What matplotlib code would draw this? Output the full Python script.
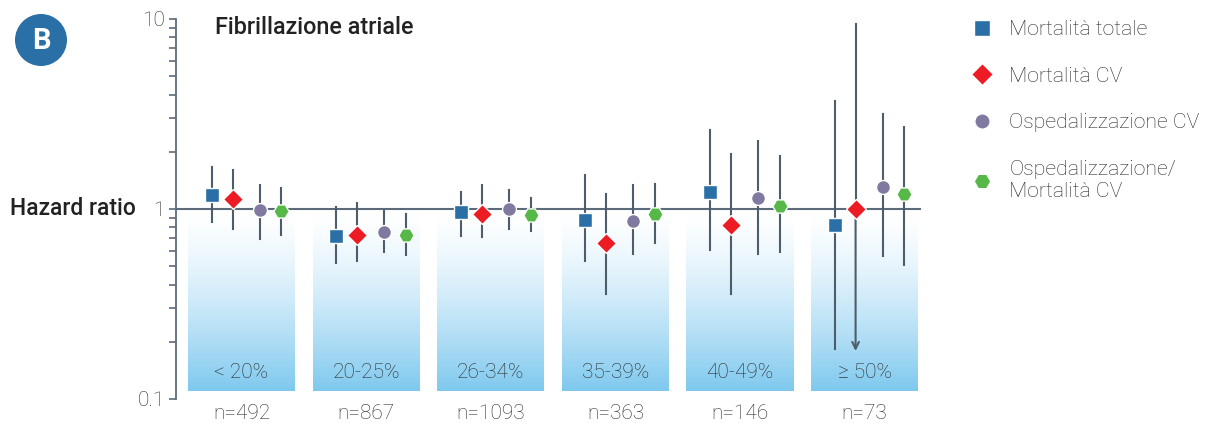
import numpy as np
import matplotlib
matplotlib.use("Agg")
import matplotlib.pyplot as plt
from matplotlib.patches import Circle
from matplotlib.transforms import IdentityTransform, blended_transform_factory
from matplotlib.lines import Line2D
from matplotlib.ticker import FixedLocator, FixedFormatter, NullFormatter

plt.rcParams['font.family'] = ['Roboto', 'DejaVu Sans']

categories = ['< 20%', '20-25%', '26-34%', '35-39%', '40-49%', '≥ 50%']
n_labels = ['n=492', 'n=867', 'n=1093', 'n=363', 'n=146', 'n=73']
series_names = ['Mortalità totale', 'Mortalità CV', 'Ospedalizzazione CV',
                'Ospedalizzazione/\nMortalità CV']

hr_tot = [1.18, 0.72, 0.96, 0.875, 1.23, 0.82]
lo_tot = [0.85, 0.52, 0.72, 0.53, 0.61, 0.183]
hi_tot = [1.66, 1.03, 1.23, 1.51, 2.6, 3.7]

hr_cv = [1.13, 0.73, 0.94, 0.66, 0.82, 1.0]
lo_cv = [0.785, 0.533, 0.715, 0.356, 0.356, 0.179]
hi_cv = [1.60, 1.075, 1.33, 1.2, 1.95, 9.39]

hr_hosp = [0.99, 0.757, 1.0, 0.868, 1.14, 1.30]
lo_hosp = [0.695, 0.596, 0.785, 0.578, 0.578, 0.566]
hi_hosp = [1.34, 0.976, 1.26, 1.34, 2.28, 3.16]

hr_comb = [0.98, 0.733, 0.93, 0.937, 1.04, 1.195]
lo_comb = [0.73, 0.573, 0.77, 0.66, 0.596, 0.507]
hi_comb = [1.29, 0.937, 1.14, 1.35, 1.91, 2.71]

# last CV lower bound is open-ended (arrow)
arrow_flags_cv = [False, False, False, False, False, True]

W, H = 1212, 430
fig = plt.figure(figsize=(W / 100, H / 100), dpi=100)
ax_left, ax_right, ax_top, ax_bot = 176, 921, 19, 399
ax = fig.add_axes([ax_left / W, (H - ax_bot) / H, (ax_right - ax_left) / W, (ax_bot - ax_top) / H])
ax.set_yscale('log')
ax.set_ylim(0.1, 10)
ax.set_xlim(-0.526, 5.453)

axis_col = '#5b6b79'
err_col = '#4d5d6b'
txt_col = '#2a2a2a'

# gradient bars
x = np.arange(len(categories))
bar_w = 0.86
N = 120
edges = np.logspace(np.log10(0.11), 0, N + 1)
top_rgb = np.array([1.0, 1.0, 1.0])
bot_rgb = np.array([126, 200, 238]) / 255
for k in range(N):
    t = 1 - (k + 0.5) / N  # 1 at bottom, 0 at top
    c = top_rgb + (bot_rgb - top_rgb) * t ** 1.4
    ax.bar(x, edges[k + 1] - edges[k], bottom=edges[k], width=bar_w,
           color=tuple(c), linewidth=0, zorder=1)

ax.axhline(1, color=axis_col, lw=1.5, zorder=2)

offsets = [-0.24, -0.072, 0.145, 0.32]
hrs = [hr_tot, hr_cv, hr_hosp, hr_comb]
los = [lo_tot, lo_cv, lo_hosp, lo_comb]
his = [hi_tot, hi_cv, hi_hosp, hi_comb]
markers = ['s', 'D', 'o', 'H']
colors = ['#2a6fa5', '#ed1c24', '#8079a0', '#56b947']
msizes = [10.5, 10, 10, 11]

for s in range(4):
    xs = x + offsets[s]
    hr = np.array(hrs[s]); lo = np.array(los[s]); hi = np.array(his[s])
    for i in range(len(x)):
        if s == 1 and arrow_flags_cv[i]:
            ax.plot([xs[i], xs[i]], [hr[i], hi[i]], color=err_col, lw=1.5, zorder=3)
            ax.annotate('', xy=(xs[i], lo[i]), xytext=(xs[i], hr[i]),
                        arrowprops=dict(arrowstyle='->', color=err_col, lw=1.5,
                                        mutation_scale=12, shrinkA=0, shrinkB=0),
                        zorder=3)
        else:
            ax.plot([xs[i], xs[i]], [lo[i], hi[i]], color=err_col, lw=1.5, zorder=3)
    ax.plot(xs, hr, linestyle='none', marker=markers[s], ms=msizes[s],
            markerfacecolor=colors[s], markeredgecolor='white', markeredgewidth=1.0,
            zorder=4)

# text labels
tr = blended_transform_factory(ax.transData, ax.transAxes)
for i in range(len(x)):
    ax.text(x[i], 0.071, categories[i], transform=tr, ha='center', va='center',
            fontsize=15, color=txt_col, fontweight='light')
    ax.text(x[i], -0.037, n_labels[i], transform=tr, ha='center', va='center',
            fontsize=15, color=txt_col, fontweight='light', clip_on=False)

# axes styling
for sp in ['top', 'right', 'bottom']:
    ax.spines[sp].set_visible(False)
ax.spines['left'].set_color(axis_col)
ax.spines['left'].set_linewidth(1.3)
ax.set_xticks([])
ax.yaxis.set_major_locator(FixedLocator([0.1, 1, 10]))
ax.yaxis.set_major_formatter(FixedFormatter(['0.1', '1', '10']))
ax.yaxis.set_minor_locator(FixedLocator([v * d for d in (0.1, 1) for v in range(2, 10)]))
ax.yaxis.set_minor_formatter(NullFormatter())
ax.tick_params(axis='y', which='both', direction='out', length=5, width=1.2,
               color=axis_col, labelsize=15, labelcolor=txt_col, pad=3)
for lab in ax.get_yticklabels():
    lab.set_fontweight('light')

# Hazard ratio label
fig.text(10 / W, 1 - 209 / H, 'Hazard ratio', ha='left', va='center',
         fontsize=16.5, fontweight='medium', color='#222222')
# title
fig.text(215 / W, 1 - 27 / H, 'Fibrillazione atriale', ha='left', va='center',
         fontsize=16.8, fontweight='medium', color='#222222')

# badge
fig.add_artist(Circle((41, H - 40), 26, transform=IdentityTransform(),
                      facecolor='#2a6fa5', edgecolor='none'))
fig.text(41 / W, 1 - 41 / H, 'B', ha='center', va='center', fontsize=21,
         fontweight='bold', color='white')

# legend
handles = [Line2D([], [], linestyle='none', marker=markers[s], ms=msizes[s] + 1,
                  markerfacecolor=colors[s], markeredgecolor='white', markeredgewidth=1.0)
           for s in range(4)]
fig.legend(handles, series_names, loc='upper left',
           bbox_to_anchor=(951 / W, 1 - 1 / H), frameon=False,
           prop={'family': 'Roboto', 'weight': 'light', 'size': 15.3},
           labelcolor=txt_col, labelspacing=1.3, handletextpad=0.75, handlelength=1.1)

fig.savefig('out.png', dpi=100)
